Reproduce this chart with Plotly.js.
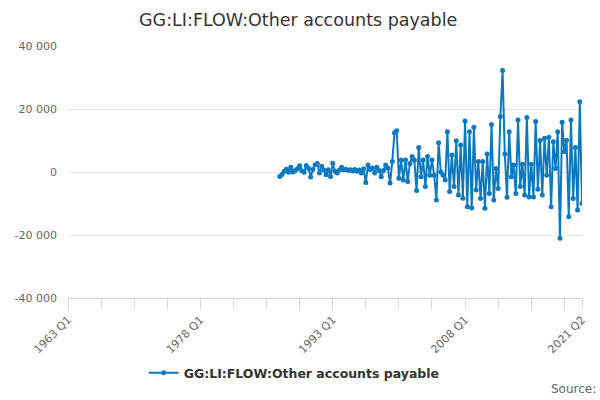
<!DOCTYPE html>
<html>
<head>
<meta charset="utf-8">
<script src="https://cdn.plot.ly/plotly-3.0.1.min.js"></script>
<style>html,body{margin:0;padding:0;background:#fff;}#chart{width:600px;height:400px;}</style>
</head>
<body>
<div id="chart"></div>
<script>
// Axis period
var firstYear = 1963;
var lastYear = 2021;
var lastQuarter = 2;
var dataStart = '1987 Q1';

// Series values (1987 Q1 .. 2021 Q2)
var seriesName = 'GG:LI:FLOW:Other accounts payable';
var values = [
  -1400,-800,200,900,-100,1500,0,500,1000,2000,
  400,-100,2100,1200,-1600,800,2300,2700,-300,1800,
  600,-900,700,-1400,2800,200,-300,600,1500,700,
  900,500,700,300,800,200,600,-300,1000,-3300,
  2200,800,1300,-300,1500,500,-1500,500,2200,1300,
  -3500,3300,12500,13100,
  -2000,3800,-2500,3800,-3000,2700,4900,3800,-5900,7800,
  -1500,3800,-4600,4900,-1000,3800,-1000,-8900,9300,0,
  -1000,-2500,12800,-6200,5400,-4600,9900,-7300,8600,-8300,
  16200,-11000,12800,-11400,14200,-5700,3300,-8400,3300,-11500,
  5700,-6800,15100,-8900,1100,-5200,17600,32200,5700,-8000,
  12800,-1500,2200,-6800,16500,-4600,2500,-7300,17300,-7900,
  2500,-7900,16000,-5500,10000,-7300,10700,-1000,11000,-11000,
  9600,1100,12800,-21000,15800,6400,10100,-14200,16500,-8400,
  7800,-12100,22300,-9900
];

// Tick labels
var xTickLabels = ['1963 Q1','1978 Q1','1993 Q1','2008 Q1','2021 Q2'];
var yTickVals = [-40000,-20000,0,20000,40000];
var yTickLabels = ['-40 000','-20 000','0','20 000','40 000'];

// Build categories
var categories = [];
for (var y = firstYear; y <= lastYear; y++) {
  for (var q = 1; q <= 4; q++) {
    if (y === lastYear && q > lastQuarter) break;
    categories.push(y + ' Q' + q);
  }
}
var startIdx = categories.indexOf(dataStart);
var xData = categories.slice(startIdx, startIdx + values.length);

var tickVals = [], tickText = [];
for (var i = 0; i < categories.length; i += 15) {
  tickVals.push(categories[i]);
  tickText.push(xTickLabels.indexOf(categories[i]) >= 0 ? categories[i] : '');
}
tickVals.push(categories[categories.length - 1]);
tickText.push(categories[categories.length - 1]);

var color = '#0b79c2';
var trace = {
  x: xData, y: values, type: 'scatter', mode: 'lines+markers',
  name: seriesName,
  line: {color: color, width: 2},
  marker: {color: color, size: 5}
};

var font = 'DejaVu Sans, Verdana, sans-serif';
var layout = {
  width: 600, height: 400,
  margin: {l: 68, r: 18, t: 46, b: 102},
  paper_bgcolor: '#fff', plot_bgcolor: '#fff',
  font: {family: font, color: '#666', size: 11},
  title: {text: seriesName, x: 0.497, xanchor: 'center', y: 0.95, yanchor: 'middle', yref: 'container',
          font: {family: font, size: 17.5, color: '#333'}},
  xaxis: {
    type: 'category', categoryorder: 'array', categoryarray: categories,
    range: [0, categories.length - 1],
    tickmode: 'array', tickvals: tickVals, ticktext: tickText,
    tickangle: -45, ticks: 'outside', ticklen: 10, tickcolor: '#ccd6eb', tickwidth: 1,
    showline: true, linecolor: '#ccd6eb', linewidth: 1,
    showgrid: false, zeroline: false,
    tickfont: {family: font, size: 11, color: '#666'}
  },
  yaxis: {
    range: [-40000, 40000],
    tickmode: 'array', tickvals: yTickVals, ticktext: yTickLabels,
    showgrid: true, gridcolor: '#e6e6e6', gridwidth: 1,
    zeroline: false, showline: false, ticks: '',
    ticklabelstandoff: 10,
    tickfont: {family: font, size: 11, color: '#666'}
  },
  showlegend: true,
  legend: {orientation: 'h', x: 0.44, xanchor: 'center', y: -0.298, yanchor: 'middle',
           font: {family: font, size: 12.5, color: '#333', weight: 'bold'}, bgcolor: 'rgba(0,0,0,0)'},
  annotations: [{
    text: 'Source:', xref: 'paper', yref: 'paper', x: 1.031, y: -0.361,
    xanchor: 'right', yanchor: 'middle', showarrow: false,
    font: {family: font, size: 12, color: '#666'}
  }]
};

Plotly.newPlot('chart', [trace], layout, {displayModeBar: false, staticPlot: true});
</script>
</body>
</html>
